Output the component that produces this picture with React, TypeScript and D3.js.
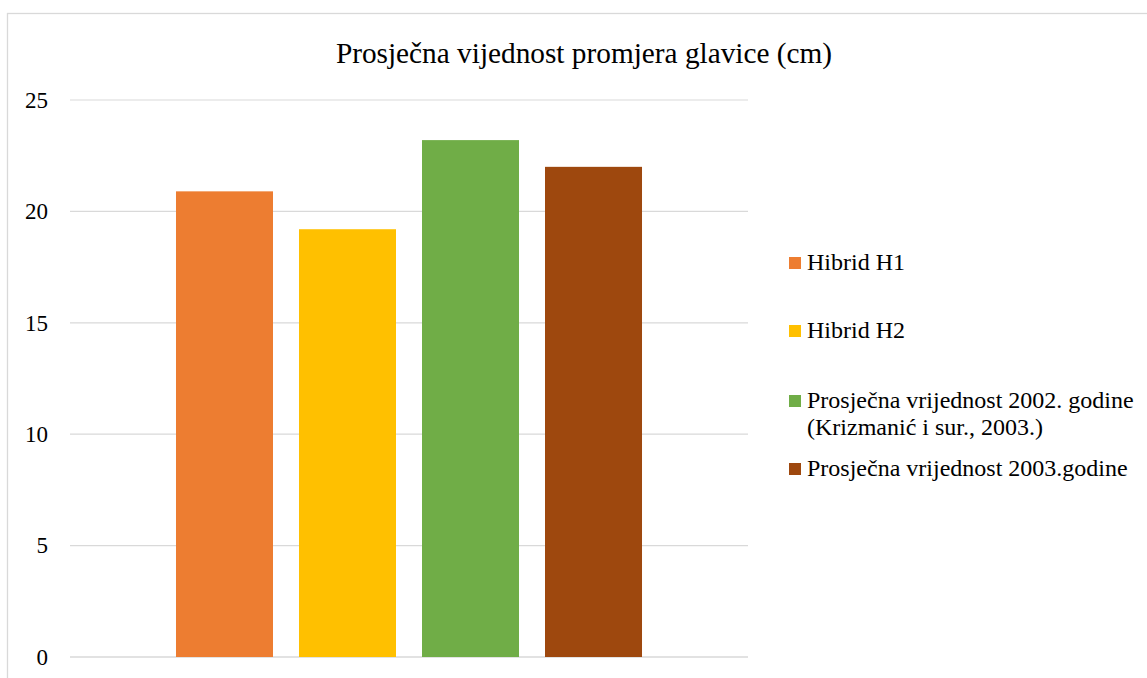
import React from "react";
import * as d3 from "d3";

const title = "Prosječna vijednost promjera glavice (cm)";
const seriesNames = [
  "Hibrid H1",
  "Hibrid H2",
  "Prosječna vrijednost 2002. godine\n(Krizmanić i sur., 2003.)",
  "Prosječna vrijednost 2003.godine",
];
const seriesValues = [20.9, 19.2, 23.2, 22.0];
const seriesColors = ["#ED7D31", "#FFC000", "#70AD47", "#9E480E"];
const yTicks = [0, 5, 10, 15, 20, 25];
const categories = ["Promjer"];

const W = 1147;
const H = 678;
const FONT = '"Liberation Serif", Tinos, "Times New Roman", serif';
const txt = { fontFamily: FONT };

export default function App() {
  const plotLeft = 70;
  const plotRight = 748;
  const plotTop = 100;
  const plotBottom = 657;

  const y = d3.scaleLinear().domain([0, 25]).range([plotBottom, plotTop]);
  const x0 = d3
    .scaleBand<string>()
    .domain(categories)
    .range([plotLeft, plotRight])
    .paddingInner(0)
    .paddingOuter(0.189);
  const x1 = d3
    .scaleBand<string>()
    .domain(seriesNames)
    .range([0, x0.bandwidth()])
    .paddingInner(26 / 123)
    .paddingOuter(13 / 123);

  const legendX = 789;
  const legendBaselines = [270, 338, 408, 476];

  return (
    <svg
      width={W}
      height={H}
      style={{ position: "absolute", left: 0, top: 0 }}
    >
      <style>{`text, tspan { font-family: "Liberation Serif", Tinos, "Times New Roman", serif; }`}</style>
      <rect x={0} y={0} width={W} height={H} fill="#fff" />
      <rect
        x={7.5}
        y={13.5}
        width={W + 20}
        height={H + 20}
        fill="none"
        stroke="#d9d9d9"
        strokeWidth={1.3}
      />
      <text x={584} y={63} textAnchor="middle" fontSize={29.3} fill="#000" fontFamily={FONT} style={txt}>
        {title}
      </text>
      {yTicks.map((t) => (
        <g key={t}>
          <line
            x1={plotLeft}
            x2={plotRight}
            y1={y(t)}
            y2={y(t)}
            stroke="#d9d9d9"
            strokeWidth={t === 0 ? 1.6 : 1.2}
          />
          <text
            x={48}
            y={y(t)}
            dy="0.34em"
            textAnchor="end"
            fontSize={23}
            fill="#000"
            fontFamily={FONT}
            style={txt}
          >
            {t}
          </text>
        </g>
      ))}
      {categories.map((c) => (
        <g key={c} transform={`translate(${x0(c)},0)`}>
          {seriesNames.map((s, i) => (
            <rect
              key={s}
              x={x1(s)}
              y={y(seriesValues[i])}
              width={x1.bandwidth()}
              height={y(0) - y(seriesValues[i])}
              fill={seriesColors[i]}
            />
          ))}
        </g>
      ))}
      {seriesNames.map((s, i) => {
        const lines = s.split("\n");
        const b = legendBaselines[i];
        return (
          <g key={s}>
            <rect x={legendX} y={b - 13} width={12} height={12} fill={seriesColors[i]} />
            <text x={807} y={b} fontSize={24} fill="#000" fontFamily={FONT} style={txt}>
              {lines.map((l, j) => (
                <tspan key={j} x={807} dy={j === 0 ? 0 : 27}>
                  {l}
                </tspan>
              ))}
            </text>
          </g>
        );
      })}
    </svg>
  );
}
